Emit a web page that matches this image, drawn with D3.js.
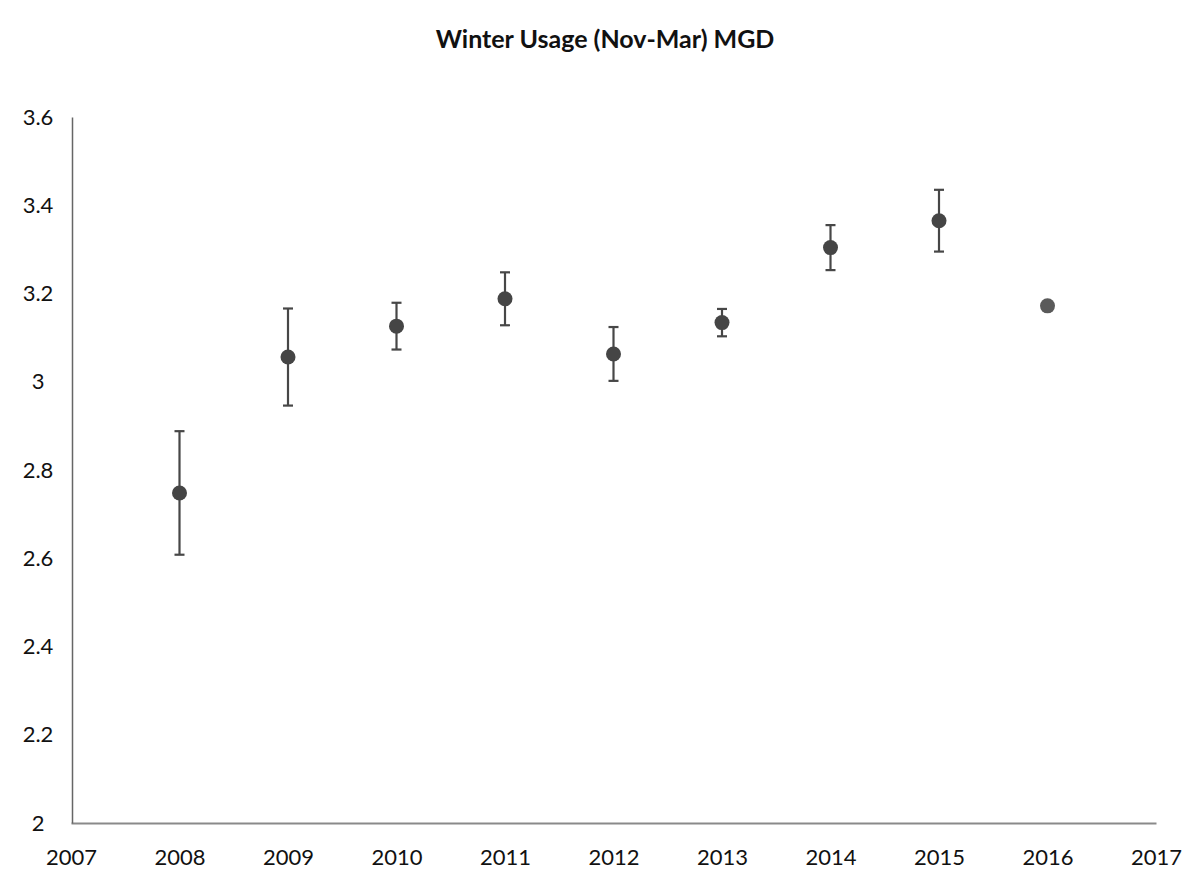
<!DOCTYPE html>
<html>
<head>
<meta charset="utf-8">
<script src="https://cdn.jsdelivr.net/npm/d3@7"></script>
<style>
  body { margin: 0; background: #fff; }
  svg { display: block; }
  .tick text { font-family: Lato, "Open Sans", sans-serif; fill: #111; }
</style>
</head>
<body>
<div id="chart"></div>
<script>
// data
const years = [2008, 2009, 2010, 2011, 2012, 2013, 2014, 2015, 2016];
const usage = [2.748, 3.056, 3.126, 3.188, 3.063, 3.134, 3.304, 3.365, 3.172];
const errors = [0.14, 0.11, 0.053, 0.06, 0.061, 0.031, 0.051, 0.07, 0];
const xTicks = [2007, 2008, 2009, 2010, 2011, 2012, 2013, 2014, 2015, 2016, 2017];
const yTicks = [2, 2.2, 2.4, 2.6, 2.8, 3, 3.2, 3.4, 3.6];

const width = 1196, height = 878;
const margin = { top: 117, right: 40, bottom: 55, left: 71 };

const svg = d3.select('#chart').append('svg')
  .attr('width', width)
  .attr('height', height);

const x = d3.scaleLinear().domain([2007, 2017]).range([margin.left, 1156]);
const y = d3.scaleLinear().domain([2, 3.6]).range([height - margin.bottom, margin.top]);

// title
svg.append('text')
  .attr('x', 605)
  .attr('y', 48)
  .attr('text-anchor', 'middle')
  .style('font-family', 'Lato, "Open Sans", sans-serif')
  .style('font-weight', 'bold')
  .style('font-size', '25px')
  .style('fill', '#111')
  .text('Winter Usage (Nov-Mar) MGD');

// x axis
const xAxis = svg.append('g')
  .attr('class', 'axis axis-x')
  .attr('transform', `translate(0, ${y(2)})`)
  .call(d3.axisBottom(x).tickValues(xTicks).tickFormat(d3.format('d')).tickSize(0).tickPadding(26));
xAxis.select('.domain').attr('stroke', '#8a8a8a').attr('stroke-width', 2);
xAxis.selectAll('.tick text').style('font-size', '22px');

// y axis
const yAxis = svg.append('g')
  .attr('class', 'axis axis-y')
  .attr('transform', `translate(${x(2007) + 1}, 0)`)
  .call(d3.axisLeft(y).tickValues(yTicks).tickFormat(d => d3.format('')(+d.toFixed(1))).tickSize(0).tickPadding(0));
yAxis.select('.domain').attr('stroke', '#666').attr('stroke-width', 1.5);
yAxis.selectAll('.tick text')
  .attr('text-anchor', 'middle')
  .attr('x', 38 - (x(2007) + 1))
  .style('font-size', '22px');

// error bars
const pts = years.map((d, i) => ({ year: d, v: usage[i], e: errors[i] }));
const bars = svg.append('g').attr('class', 'errors')
  .selectAll('g')
  .data(pts.filter(d => d.e > 0))
  .enter().append('g')
  .attr('stroke', '#474747')
  .attr('stroke-width', 2.2);
bars.append('line')
  .attr('x1', d => x(d.year)).attr('x2', d => x(d.year))
  .attr('y1', d => y(d.v - d.e)).attr('y2', d => y(d.v + d.e));
bars.append('line')
  .attr('x1', d => x(d.year) - 5).attr('x2', d => x(d.year) + 5)
  .attr('y1', d => y(d.v + d.e)).attr('y2', d => y(d.v + d.e));
bars.append('line')
  .attr('x1', d => x(d.year) - 5).attr('x2', d => x(d.year) + 5)
  .attr('y1', d => y(d.v - d.e)).attr('y2', d => y(d.v - d.e));

// markers
svg.append('g').attr('class', 'points')
  .selectAll('circle')
  .data(pts)
  .enter().append('circle')
  .attr('cx', d => x(d.year))
  .attr('cy', d => y(d.v))
  .attr('r', 7.5)
  .style('fill', (d, i) => i === pts.length - 1 ? '#5a5a5a' : '#454545');
</script>
</body>
</html>
